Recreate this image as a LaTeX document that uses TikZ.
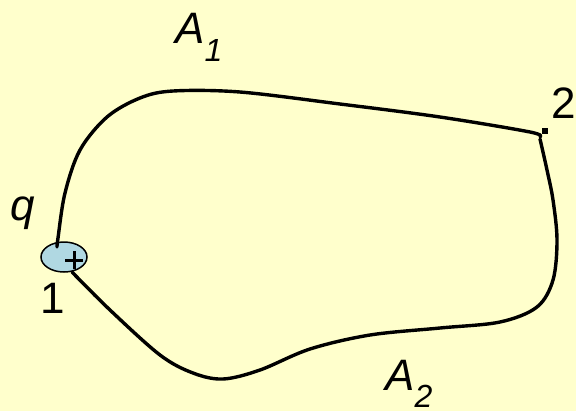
\documentclass[tikz,border=0pt]{standalone}
\usepackage{fontspec}
\setmainfont{Liberation Sans}
\usetikzlibrary{shapes.geometric}
\definecolor{bgy}{HTML}{FFFFCC}
\definecolor{chg}{HTML}{B0D8E2}
\tikzset{
  pathline/.style={line width=3.4bp, line cap=round, line join=round},
  lbl/.style={inner sep=0pt, anchor=center, font=\fontsize{44bp}{48bp}\selectfont}
}
\begin{document}
\begin{tikzpicture}[x=1bp,y=-1bp]
\fill[bgy] (0,0) rectangle (576,411);
\useasboundingbox (0,0) rectangle (576,411);
% charge
\node[draw, line width=1.5bp, fill=chg, ellipse, minimum width=46bp, minimum height=30bp, inner sep=0pt] (q1) at (64,257) {};
% paths
\draw[pathline] plot[smooth, tension=0.55] coordinates {(57,247) (58,238) (65,193) (80,150) (107,117) (140,98) (173,91) (240,92) (340,104) (440,117) (530,132) (540,137)};
\draw[pathline] plot[smooth, tension=0.55] coordinates {(540,139) (547,170) (553,200) (557,240) (553,280) (537,307) (500,322) (440,328) (370,335) (310,349) (260,370) (223,379) (193,373) (160,355) (110,310) (72,272)};
% plus sign
\coordinate (pc) at (74,260);
\draw[line width=3bp] ([xshift=-9bp]pc) -- ([xshift=9bp]pc);
\draw[line width=3bp] ([yshift=-9bp]pc) -- ([yshift=9bp]pc);
% dot at 2
\fill (542,128) rectangle (548,134);
% labels
\node[lbl, font=\fontsize{44bp}{48bp}\selectfont\itshape] (q) at (23,213) {q};
\node[lbl] (one) at (53,298) {1};
\node[lbl] (two) at (564,103) {2};
\node[lbl, anchor=base west] (a1) at (175,43) {\itshape A\raisebox{-0.42em}{\fontsize{32bp}{32bp}\selectfont 1}};
\node[lbl, anchor=base west] (a2) at (385,390) {\itshape A\raisebox{-0.40em}{\fontsize{32bp}{32bp}\selectfont 2}};
\end{tikzpicture}
\end{document}
